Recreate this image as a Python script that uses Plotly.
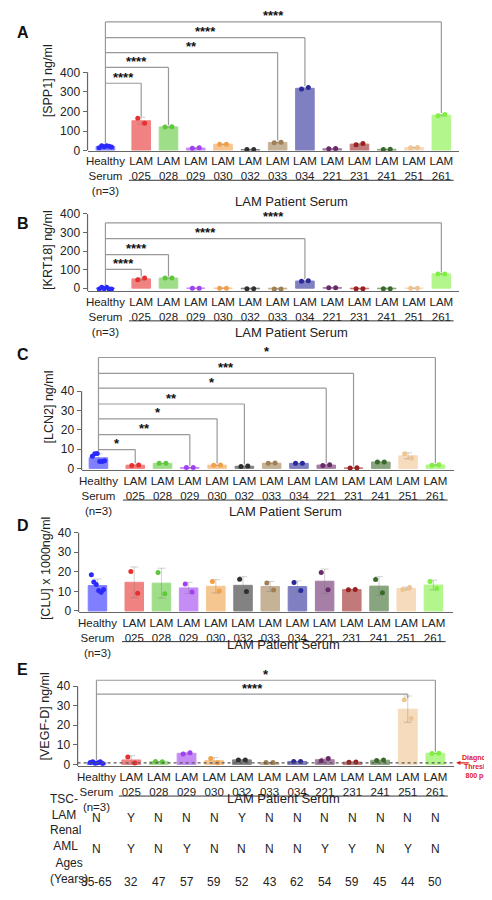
import plotly.graph_objects as go
import numpy as np

groups = ["Healthy<br>Serum<br>(n=3)", "LAM<br>025", "LAM<br>028", "LAM<br>029", "LAM<br>030", "LAM<br>032",
          "LAM<br>033", "LAM<br>034", "LAM<br>221", "LAM<br>231", "LAM<br>241", "LAM<br>251", "LAM<br>261"]
colors = ["#2a2aff", "#e83030", "#5fc83a", "#a040f0", "#f0a048", "#303030", "#a08052",
          "#2a2a9a", "#6a2a6a", "#9a2020", "#3a6a2a", "#f0c490", "#80f040"]

spp1 = [[15, 25, 20, 25, 22, 18], [165, 140], [120, 122], [12, 14], [32, 33], [5, 6], [40, 43],
        [315, 322], [9, 10], [30, 36], [6, 7], [15, 16], [178, 184]]
krt18 = [[-5, 5, -3, 5, -5, -5], [45, 55], [55, 55], [0, 0], [0, 0], [-3, -3], [-4, -4],
         [37, 40], [3, 3], [-3, -3], [-3, -3], [0, 0], [77, 77]]
lcn2 = [[6.3, 7.6, 7.7, 3.6, 3.6, 4.0], [1.5, 1.8], [2.6, 2.6], [0.4, 0.5], [1.6, 1.7], [1.0, 1.2],
        [2.6, 2.8], [2.6, 2.6], [1.5, 1.9], [0.2, 0.3], [3.3, 3.3], [7.6, 5.4], [1.6, 1.9]]
clu = [[18.5, 14.8, 13.5, 10.5, 9.5, 11.0], [20.2, 9.1], [19.6, 8.8], [13.8, 9.7], [15.0, 10.2],
       [16.2, 10.0], [14.3, 10.7], [14.5, 10.4], [19.6, 10.8], [10.8, 11.0], [16.1, 9.3],
       [11.0, 12.0], [15.0, 11.5]]
vegfd = [[1.0, 1.3, 0.6, 0.8, 1.3, 0.5], [3.8, 0.7], [1.5, 1.3], [5.3, 6.0], [3.0, 0.8], [2.3, 2.3],
         [0.9, 0.9], [1.5, 1.5], [1.8, 3.0], [1.1, 1.2], [2.0, 2.2], [33.0, 23.5], [5.6, 5.7]]

tsc = ["N", "Y", "N", "N", "N", "Y", "N", "N", "N", "N", "N", "N", "N"]
renal = ["N", "Y", "N", "Y", "N", "N", "N", "N", "Y", "Y", "N", "Y", "N"]
ages = ["35-65", "32", "47", "57", "59", "52", "43", "62", "54", "59", "45", "44", "50"]

W, H = 492, 900
FONT = "Liberation Sans, Arial, sans-serif"

# panel geometry in pixels: zero px, ymax px, axis px, x-axis left, healthy, LAM025, LAM261, right
panels = [
    dict(L="A", data=spp1, title="[SPP1] ng/ml", ymax=400, dt=100, z=142, t=63, ax=142,
         xl=77, xh=95, x1=131, x12=433, xr=451,
         br=[(1, "****", 74), (2, "****", 58), (6, "**", 43), (7, "****", 28), (12, "****", 12)]),
    dict(L="B", data=krt18, title="[KRT18] ng/ml", ymax=400, dt=100, z=281, t=206, ax=284,
         xl=77, xh=95, x1=131, x12=433, xr=451,
         br=[(1, "****", 262), (2, "****", 247), (7, "****", 231), (12, "****", 215)]),
    dict(L="C", data=lcn2, title="[LCN2] ng/ml", ymax=40, dt=10, z=463, t=385, ax=465,
         xl=71, xh=88, x1=125, x12=427, xr=446,
         br=[(1, "*", 444), (3, "**", 429), (4, "*", 413), (5, "**", 398), (8, "*", 382),
             (9, "***", 367), (12, "*", 351)]),
    dict(L="D", data=clu, title="[CLU] x 1000ng/ml", ymax=40, dt=10, z=607, t=528, ax=608,
         xl=68, xh=87, x1=124, x12=425, xr=445, br=[]),
    dict(L="E", data=vegfd, title="[VEGF-D] ng/ml", ymax=40, dt=10, z=762, t=683, ax=764,
         xl=67, xh=86, x1=121, x12=427, xr=446, br=[(11, "****", 691), (12, "*", 677)]),
]
letter_px = {"A": 12, "B": 205, "C": 348, "D": 521, "E": 677}

fig = go.Figure()
layout = dict(width=W, height=H, margin=dict(l=0, r=0, t=0, b=0), showlegend=False,
              plot_bgcolor="white", paper_bgcolor="white", font=dict(family=FONT, color="#222"),
              shapes=[], annotations=[])

for k, p in enumerate(panels):
    n = "" if k == 0 else str(k + 1)
    xa, ya = "x" + n, "y" + n
    unit = (p["x12"] - p["x1"]) / 11
    off = (p["x1"] - p["xh"]) / unit
    pos = [0] + [off + i for i in range(12)]
    scale = (p["z"] - p["t"]) / p["ymax"]  # px per unit
    top_px = max(min(b[2] for b in p["br"]) - 14, 1) if p["br"] else p["t"] - 8
    ytop = (p["z"] - top_px) / scale
    ybot = (p["z"] - p["ax"]) / scale
    to_y = lambda px, z=p["z"], s=scale: (z - px) / s

    means = [np.mean(v) for v in p["data"]]
    sds = [np.std(v, ddof=1) for v in p["data"]]
    fig.add_trace(go.Bar(x=pos, y=means, width=0.68, xaxis=xa, yaxis=ya,
                         marker=dict(color=colors, opacity=0.6, line=dict(color=colors, width=1)),
                         error_y=dict(type="data", array=sds, color="rgba(120,120,120,0.35)",
                                      thickness=1, width=4)))
    px_, py_, pc_ = [], [], []
    for i, vals in enumerate(p["data"]):
        m = len(vals)
        spread = 0.45 if m > 2 else 0.25
        for j, v in enumerate(vals):
            px_.append(pos[i] + (j - (m - 1) / 2) * spread / max(m - 1, 1))
            py_.append(v)
            pc_.append(colors[i])
    fig.add_trace(go.Scatter(x=px_, y=py_, mode="markers", xaxis=xa, yaxis=ya,
                             marker=dict(color=pc_, size=5), cliponaxis=False))

    xr0 = -(p["xh"] - p["xl"]) / unit
    xr1 = pos[-1] + (p["xr"] - p["x12"]) / unit
    layout["xaxis" + n] = dict(domain=[p["xl"] / W, p["xr"] / W], range=[xr0, xr1], anchor=ya,
                               showline=True, linecolor="#666", linewidth=1.2, ticks="",
                               tickvals=pos, ticktext=groups, tickfont=dict(size=11.5, color="#222"),
                               showgrid=False, zeroline=False, fixedrange=True)
    layout["yaxis" + n] = dict(domain=[1 - p["ax"] / H, 1 - top_px / H], range=[ybot, ytop], anchor=xa,
                               showline=False, ticks="outside", ticklen=4, tickcolor="#666",
                               tickvals=list(range(0, p["ymax"] + 1, p["dt"])),
                               tickfont=dict(size=12, color="#222"), showgrid=False, zeroline=False,
                               title=dict(text=p["title"], font=dict(size=12.5), standoff=4),
                               fixedrange=True)
    sh = layout["shapes"]
    sh.append(dict(type="line", xref=xa + " domain", yref=ya, x0=0, x1=0, y0=ybot, y1=p["ymax"],
                   line=dict(color="#666", width=1.2)))
    # underline for LAM patients + label
    uy = 1 - (p["ax"] + 30) / H
    sh.append(dict(type="line", xref=xa, yref="paper", x0=pos[1] - 0.45, x1=pos[-1] + 0.45,
                   y0=uy, y1=uy, line=dict(color="#333", width=1)))
    layout["annotations"].append(dict(xref=xa, yref="paper", x=(pos[1] + pos[-1]) / 2, y=uy - 12 / H,
                                      text="LAM Patient Serum", showarrow=False, font=dict(size=13)))
    layout["annotations"].append(dict(xref="paper", yref="paper", x=4 / W, y=1 - letter_px[p["L"]] / H,
                                      text="<b>" + p["L"] + "</b>", showarrow=False, xanchor="left",
                                      font=dict(size=16, color="#111")))
    # significance brackets
    if p["br"]:
        ytopb = to_y(min(b[2] for b in p["br"]))
        lbot = max(p["data"][0]) + p["ymax"] * 0.025
        sh.append(dict(type="line", xref=xa, yref=ya, x0=0, x1=0, y0=lbot, y1=ytopb,
                       line=dict(color="#999", width=1.2)))
        for idx, stars, bpx in p["br"]:
            yb = to_y(bpx)
            rbot = max(p["data"][idx]) + p["ymax"] * 0.02
            sh.append(dict(type="line", xref=xa, yref=ya, x0=0, x1=pos[idx], y0=yb, y1=yb,
                           line=dict(color="#999", width=1.2)))
            sh.append(dict(type="line", xref=xa, yref=ya, x0=pos[idx], x1=pos[idx], y0=yb, y1=rbot,
                           line=dict(color="#999", width=1.2)))
            layout["annotations"].append(dict(xref=xa, yref=ya, x=pos[idx] / 2, y=yb, yshift=6,
                                              text="<b>" + stars + "</b>", showarrow=False,
                                              font=dict(size=13, color="#111")))
    if p["L"] == "E":
        sh.append(dict(type="line", xref=xa + " domain", yref=ya, x0=0, x1=1, y0=0.8, y1=0.8,
                       line=dict(color="#555", width=1.2, dash="dot")))
        layout["annotations"].append(dict(xref="paper", yref=ya, x=1, y=0.8, xanchor="right",
                                          text="<b>Diagnostic<br>Threshold<br>800 pg/ml</b>",
                                          showarrow=False, align="right", yshift=-4,
                                          font=dict(size=7, color="#e02020")))
        layout["annotations"].append(dict(xref="paper", yref=ya, x=448 / W, y=0.8, ax=14, ay=0,
                                          text="", showarrow=True, arrowhead=2, arrowsize=0.7,
                                          arrowwidth=1.2, arrowcolor="#e02020"))
        rows = [("TSC-<br>LAM", tsc, 825), ("Renal<br>AML", renal, 857), ("Ages<br>(Years)", ages, 890)]
        for lab, vals, rpx in rows:
            layout["annotations"].append(dict(xref="paper", yref="paper", x=37 / W, y=1 - (rpx - 3) / H,
                                              text=lab, showarrow=False, font=dict(size=12)))
            for i, v in enumerate(vals):
                layout["annotations"].append(dict(xref=xa, yref="paper", x=pos[i], y=1 - rpx / H,
                                                  text=v, showarrow=False, font=dict(size=12)))

fig.update_layout(**layout)
fig.write_html("out.html")
